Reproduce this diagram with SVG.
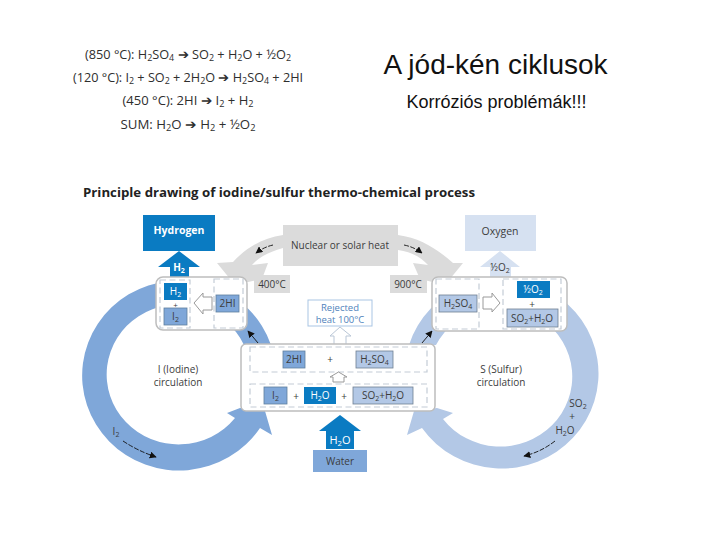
<svg xmlns="http://www.w3.org/2000/svg" width="720" height="540" viewBox="0 0 720 540">
<style>
text{font-family:"Open Sans","Noto Sans","Liberation Sans",sans-serif;text-anchor:middle;fill:#3c3c3c;font-size:10px}
.eq{font-size:12.5px;fill:#2e2e2e}
.s{font-size:70%;baseline-shift:-22%}
.t{font-family:"Liberation Sans",Arial,sans-serif;fill:#111}
.w{fill:#fff}
.card{fill:#fff;stroke:#bdbdbd;stroke-width:1.5}
.dash{fill:none;stroke:#c3ccd6;stroke-width:1.2;stroke-dasharray:6 3.5}
.blue{fill:#0a7bc2}
.mid{fill:#7fa7d9;stroke:#5f7f9f;stroke-width:.8}
.pale{fill:#b3c8e6;stroke:#6f7f92;stroke-width:.8}
.grey{fill:#dbdbdb}
.hollow{fill:#fff;stroke:#9a9a9a;stroke-width:1}
.sm{fill:none;stroke:#111;stroke-width:.9}
</style>
<defs>
<marker id="ah" viewBox="0 0 10 10" refX="9" refY="5" markerWidth="7" markerHeight="7" markerUnits="userSpaceOnUse" orient="auto"><path d="M0 0L10 5L0 10Z" fill="#111"/></marker>
</defs>
<rect width="720" height="540" fill="#fff"/>

<g id="equations">
<text class="eq" x="188" y="59" textLength="206" lengthAdjust="spacingAndGlyphs">(850 °C): H<tspan class="s">2</tspan>SO<tspan class="s">4</tspan> ➔ SO<tspan class="s">2</tspan> + H<tspan class="s">2</tspan>O + ½O<tspan class="s">2</tspan></text>
<text class="eq" x="188" y="82" textLength="230" lengthAdjust="spacingAndGlyphs">(120 °C): I<tspan class="s">2</tspan> + SO<tspan class="s">2</tspan> + 2H<tspan class="s">2</tspan>O ➔ H<tspan class="s">2</tspan>SO<tspan class="s">4</tspan> + 2HI</text>
<text class="eq" x="188" y="105" textLength="131" lengthAdjust="spacingAndGlyphs">(450 °C): 2HI ➔ I<tspan class="s">2</tspan> + H<tspan class="s">2</tspan></text>
<text class="eq" x="188" y="129" textLength="135" lengthAdjust="spacingAndGlyphs">SUM:  H<tspan class="s">2</tspan>O ➔ H<tspan class="s">2</tspan> + ½O<tspan class="s">2</tspan></text>
</g>
<g id="titles">
<text class="t" x="495.500" y="74" style="font-size:28px">A jód-kén ciklusok</text>
<text class="t" x="496.500" y="108" style="font-size:18px">Korróziós problémák!!!</text>
<text x="279" y="197" textLength="392" lengthAdjust="spacingAndGlyphs" style="font-size:13px;font-weight:700;fill:#222">Principle drawing of iodine/sulfur thermo-chemical process</text>
</g>

<g id="connectors">
<path id="ring-iodine" fill="#7fa7d9" d="M235 418A72 70 0 1 1 244 345L271 345A97 95 0 1 0 260 428L272 435L265 411L240 408L227 413Z"/>
<path id="ring-sulfur" fill="#b3c8e6" d="M443 419A72 70 0 1 0 436 345L409 345A97 95 0 1 1 422 428L407 435L414 411L437 408L453 413Z"/>
<path class="grey" d="M283 235C262 238 246 248 233 262L217 263L235 285L262 279L268 263L252 265C258 258 268 252 283 248Z"/>
<path class="grey" d="M398 235C420 238 436 248 453 263L463 263L445 285L420 279L413 263L428 265C422 258 412 252 398 250Z"/>
<path class="blue" d="M179 251L200 267L189 267L189 279L170 279L170 267L158 267Z"/>
<path fill="#d6e1f1" d="M500 251L520 267L511 267L511 279L490 279L490 267L480 267Z"/>
<path class="blue" d="M340 415L361 431L354 431L354 449L326 449L326 431L319 431Z"/>
<path fill="#fff" stroke="#b9c6d6" d="M340 327L351 336L346 336L346 345L334 345L334 336L330 336Z"/>
<path class="sm" stroke-dasharray="5 1.5" marker-end="url(#ah)" d="M273 245Q264 247 256 253"/>
<path class="sm" stroke-dasharray="5 1.5" marker-end="url(#ah)" d="M404 245Q414 247 422 253"/>
<path class="sm" stroke-dasharray="5 1.5" marker-end="url(#ah)" d="M123 441Q138 451 156 457"/>
<path class="sm" stroke-dasharray="5 1.5" marker-end="url(#ah)" d="M555 441Q541 452 524 456"/>
<path class="sm" marker-end="url(#ah)" d="M258 343L248 331"/>
<path class="sm" marker-end="url(#ah)" d="M422 343L432 331"/>
</g>

<g id="ring-labels">
<text x="178" y="373">I (Iodine)</text><text x="178" y="386">circulation</text>
<text x="501" y="373">S (Sulfur)</text><text x="501" y="386">circulation</text>
<text x="116" y="435">I<tspan class="s">2</tspan></text>
<text x="578" y="407">SO<tspan class="s">2</tspan></text><text x="572" y="420">+</text><text x="565" y="434">H<tspan class="s">2</tspan>O</text>
</g>

<g id="hydrogen"><rect class="blue" x="143" y="215" width="72" height="36"/><text class="w" x="179" y="234" style="font-size:10.5px;font-weight:700">Hydrogen</text><text class="w" x="179" y="271" style="font-weight:700">H<tspan class="s">2</tspan></text></g>
<g id="oxygen"><rect fill="#d6e1f1" x="465" y="215" width="71" height="36"/><text x="500" y="235" style="font-size:10.5px">Oxygen</text><text x="500" y="271">½O<tspan class="s">2</tspan></text></g>
<g id="heat"><rect class="grey" x="283" y="225" width="115" height="41"/><text x="340" y="249">Nuclear or solar heat</text></g>
<g id="t400"><rect class="grey" x="254" y="275" width="36" height="18"/><text x="272" y="288">400°C</text></g>
<g id="t900"><rect class="grey" x="390" y="275" width="37" height="18"/><text x="408" y="288">900°C</text></g>
<g id="rejected"><rect fill="#fff" stroke="#a9c5e4" x="308" y="300" width="64" height="26"/><text x="340" y="310.500" style="fill:#4f82bb;font-size:9.500px">Rejected</text><text x="340" y="323" style="fill:#4f82bb;font-size:9.500px">heat 100°C</text></g>

<g id="iodine-box">
<rect class="card" x="156" y="277" width="91" height="53" rx="7"/>
<rect class="dash" x="160" y="280" width="30" height="48"/><rect class="dash" x="214" y="279" width="29" height="49"/>
<rect class="blue" x="164" y="283" width="23" height="17"/><text class="w" x="175.500" y="295">H<tspan class="s">2</tspan></text>
<text x="175.500" y="307.500" style="font-size:8px">+</text>
<rect class="mid" x="164" y="308" width="23" height="17"/><text x="175.500" y="320">I<tspan class="s">2</tspan></text>
<path class="hollow" d="M194 303L203 293L203 297L212 297L212 310L203 310L203 314Z"/>
<rect class="mid" x="216" y="295" width="23" height="17"/><text x="227.500" y="307">2HI</text>
</g>
<g id="sulfur-box">
<rect class="card" x="432" y="277" width="135" height="54" rx="6"/>
<rect class="dash" x="436" y="279" width="43" height="50"/><rect class="dash" x="503" y="279" width="58" height="50"/>
<rect class="pale" x="439" y="295" width="38" height="17"/><text x="458" y="307">H<tspan class="s">2</tspan>SO<tspan class="s">4</tspan></text>
<path class="hollow" d="M483 297L492 297L492 293L500 303L492 312L492 309L483 309Z"/>
<rect class="blue" x="517" y="281" width="33" height="17"/><text class="w" x="533" y="293">½O<tspan class="s">2</tspan></text>
<text x="532" y="308">+</text>
<rect class="pale" x="507" y="309" width="51" height="18"/><text x="532" y="322">SO<tspan class="s">2</tspan>+H<tspan class="s">2</tspan>O</text>
</g>
<g id="center-box">
<rect class="card" x="241" y="344" width="194" height="67" rx="5"/>
<rect class="dash" x="250" y="347" width="177" height="25"/><rect class="dash" x="250" y="384" width="177" height="23"/>
<rect class="mid" x="283" y="351" width="22" height="17"/><text x="294" y="363">2HI</text>
<text x="330" y="363">+</text>
<rect class="pale" x="356" y="351" width="37" height="17"/><text x="374.500" y="363">H<tspan class="s">2</tspan>SO<tspan class="s">4</tspan></text>
<path fill="#fff" stroke="#9a9a9a" d="M338.500 372L347 377L344 377L344 382L333 382L333 377L330 377Z"/>
<rect class="mid" x="264" y="387" width="23" height="17"/><text x="275.500" y="399">I<tspan class="s">2</tspan></text>
<text x="296" y="400">+</text>
<rect class="blue" x="304" y="387" width="32" height="17"/><text class="w" x="320" y="399">H<tspan class="s">2</tspan>O</text>
<text x="344" y="400">+</text>
<rect class="pale" x="353" y="387" width="60" height="17"/><text x="383" y="399">SO<tspan class="s">2</tspan>+H<tspan class="s">2</tspan>O</text>
</g>
<g id="water"><text class="w" x="340" y="444" style="font-size:11px">H<tspan class="s">2</tspan>O</text><rect fill="#7fa7d9" x="313" y="450" width="54" height="22"/><text x="340" y="465">Water</text></g>
</svg>
